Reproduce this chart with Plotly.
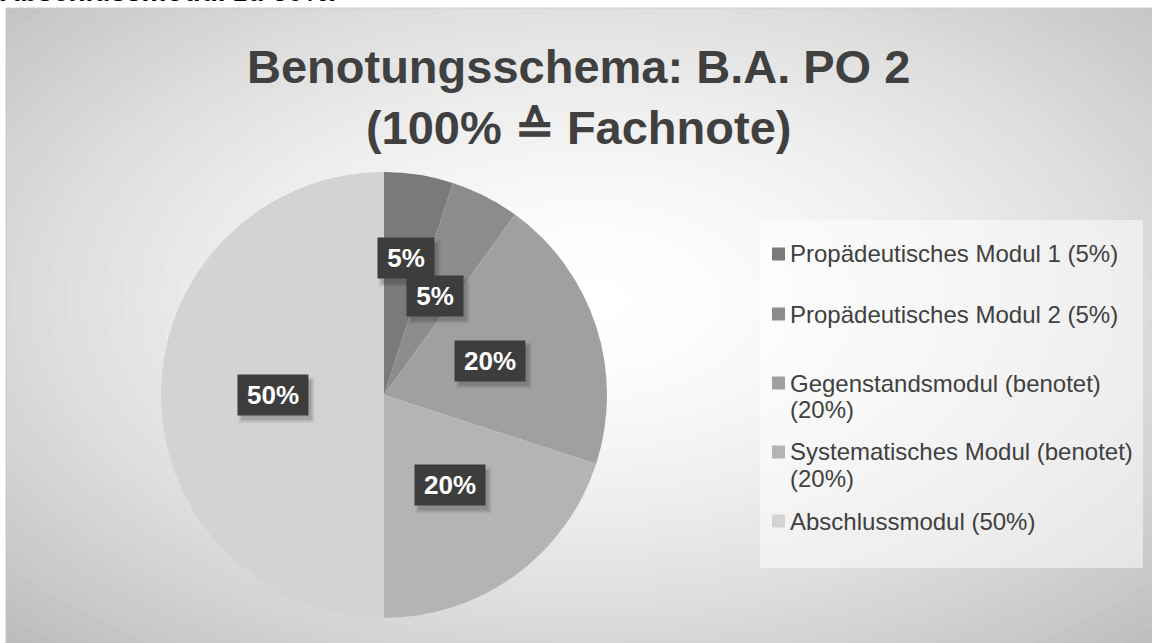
import math
import plotly.graph_objects as go

# ---- data ----
labels = ["Propädeutisches Modul 1", "Propädeutisches Modul 2",
          "Gegenstandsmodul (benotet)", "Systematisches Modul (benotet)",
          "Abschlussmodul"]
values = [5, 5, 20, 20, 50]
colors = ["#7a7a7a", "#8c8c8c", "#a0a0a0", "#b4b4b4", "#d3d3d3"]
title_text = "Benotungsschema: B.A. PO 2<br>(100% ≙ Fachnote)"
top_text = "Abschlussmodul zu 50%."

W, H = 1152, 643
FONT = "Arial, Liberation Sans, sans-serif"

def px(x):
    return x / W

def py(y):
    return 1 - y / H

# pie geometry (pixels)
cx, cy, R = 384, 395, 223
label_rf = [0.62, 0.5, 0.5, 0.5, 0.5]

fig = go.Figure()
fig.add_trace(go.Pie(
    labels=labels, values=values, sort=False, direction="clockwise", rotation=0,
    marker=dict(colors=colors, line=dict(width=0)),
    textinfo="none", hoverinfo="label+percent", showlegend=False,
    domain=dict(x=[px(cx - R), px(cx + R)], y=[py(cy + R), py(cy - R)]),
))

shapes = []
# radial gradient background (chart area from x=6, y=8)
gx0, gy0 = 6, 8
gcx, gcy = 590, 300
Rx, Ry = 840, 480
N = 45
for k in range(N, 0, -1):
    t = k / N
    g = int(round(255 - (255 - 188) * (t ** 1.6)))
    col = f"rgb({g},{g},{g})"
    shapes.append(dict(type="circle", xref="paper", yref="paper", layer="below",
                       x0=px(gcx - Rx * t), x1=px(gcx + Rx * t),
                       y0=py(gcy + Ry * t), y1=py(gcy - Ry * t),
                       fillcolor=col, line=dict(width=0)))
# white page strips outside chart area
shapes.append(dict(type="rect", xref="paper", yref="paper", layer="below",
                   x0=-0.1, x1=1.1, y0=py(gy0), y1=1.2, fillcolor="white", line=dict(width=0)))
shapes.append(dict(type="rect", xref="paper", yref="paper", layer="below",
                   x0=-0.1, x1=px(gx0), y0=-0.2, y1=1.2, fillcolor="white", line=dict(width=0)))
shapes.append(dict(type="line", xref="paper", yref="paper", layer="below",
                   x0=px(gx0), x1=1.0, y0=py(gy0), y1=py(gy0), line=dict(color="#d0d0d0", width=1)))
shapes.append(dict(type="line", xref="paper", yref="paper", layer="below",
                   x0=px(gx0), x1=px(gx0), y0=py(gy0), y1=0, line=dict(color="#c8c8c8", width=1)))
# legend box
shapes.append(dict(type="rect", xref="paper", yref="paper", layer="below",
                   x0=px(760), x1=px(1143), y0=py(568), y1=py(220),
                   fillcolor="rgba(255,255,255,0.5)", line=dict(width=0)))

annotations = []
# data labels with soft shadow
LFS = 26
BH = 40
total = sum(values)
cum = 0
for i, v in enumerate(values):
    mid = (cum + v / 2) / total
    cum += v
    ang = 2 * math.pi * mid
    lx = cx + label_rf[i] * R * math.sin(ang)
    ly = cy - label_rf[i] * R * math.cos(ang)
    s = f"{v}%"
    bw = round((0.556 * (len(s) - 1) + 0.889) * LFS + 18)
    for (ox, oy, grow, a) in [(4, 5, 3, 0.07), (4, 5, 1.5, 0.10), (4, 5, 0, 0.14)]:
        shapes.append(dict(type="rect", xref="paper", yref="paper", layer="above",
                           x0=px(lx - bw / 2 + ox - grow), x1=px(lx + bw / 2 + ox + grow),
                           y0=py(ly + BH / 2 + oy + grow), y1=py(ly - BH / 2 + oy - grow),
                           fillcolor=f"rgba(40,40,40,{a})", line=dict(width=0)))
    annotations.append(dict(x=px(lx), y=py(ly), xref="paper", yref="paper",
                            xanchor="center", yanchor="middle",
                            text=f"<b>{s}</b>", showarrow=False, width=bw, height=BH,
                            font=dict(family=FONT, size=LFS, color="white"),
                            bgcolor="#3d3d3d", borderpad=0))

# legend entries (manual, to match spacing)
LEG_FS = 24
yc = 254
prev_lines = None
for i, (lab, v) in enumerate(zip(labels, values)):
    lines = [f"{lab} ({v}%)"] if len(lab) <= 24 else [lab, f"({v}%)"]
    if prev_lines is not None:
        yc += 60 if (prev_lines == 1 and len(lines) == 1) else 69
    prev_lines = len(lines)
    for j, ln in enumerate(lines):
        annotations.append(dict(x=px(789), y=py(yc + j * 26.5), xref="paper", yref="paper",
                                xanchor="left", yanchor="middle", align="left",
                                text=ln, showarrow=False,
                                font=dict(family=FONT, size=LEG_FS, color="#404040"), borderpad=0))
    shapes.append(dict(type="rect", xref="paper", yref="paper",
                       x0=px(772), x1=px(785), y0=py(yc + 6.5), y1=py(yc - 6.5),
                       fillcolor=colors[i], line=dict(width=0)))

# title
annotations.append(dict(x=px(578), y=py(97), xref="paper", yref="paper",
                        xanchor="center", yanchor="middle",
                        text=f"<b>{title_text}</b>", showarrow=False,
                        font=dict(family=FONT, size=47, color="#404040")))
# cut-off page text at top
annotations.append(dict(x=px(-1), y=py(7.5), xref="paper", yref="paper",
                        xanchor="left", yanchor="bottom", text=f"<b>{top_text}</b>", showarrow=False,
                        font=dict(family=FONT, size=28, color="black"), borderpad=0))

fig.update_layout(
    width=W, height=H, margin=dict(l=0, r=0, t=0, b=0, autoexpand=False),
    paper_bgcolor="white", plot_bgcolor="white",
    shapes=shapes, annotations=annotations,
    xaxis=dict(visible=False), yaxis=dict(visible=False),
)
fig.write_html("out.html", config={"displayModeBar": False},
               post_script="document.body.style.margin='0';document.body.style.overflow='hidden';")
